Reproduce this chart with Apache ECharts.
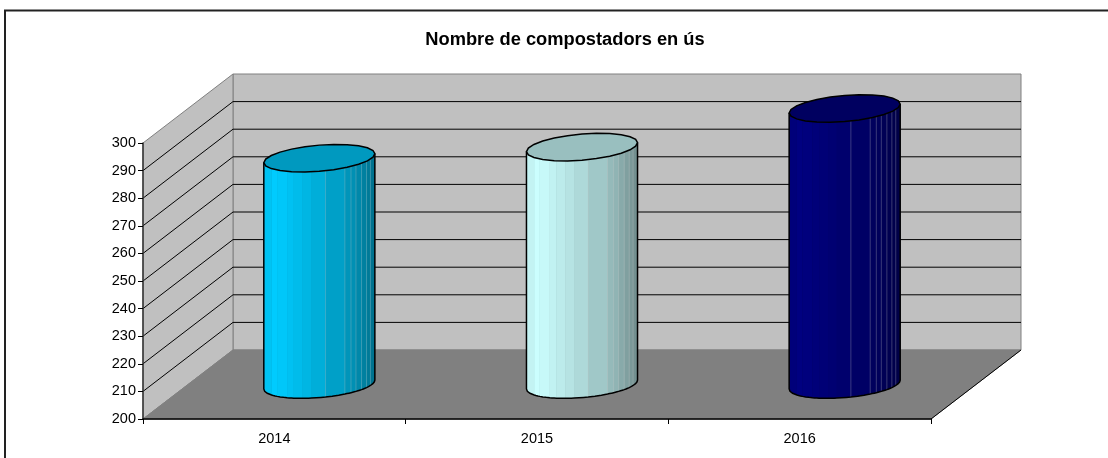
<!DOCTYPE html>
<html>
<head>
<meta charset="utf-8">
<style>
  html, body { margin: 0; padding: 0; background: #fff; }
  #chart { width: 1108px; height: 458px; }
</style>
<script src="https://cdn.jsdelivr.net/npm/echarts@6/dist/echarts.min.js"></script>
</head>
<body>
<div id="chart"></div>
<script>
const years = ['2014', '2015', '2016'];
const compostadors = [282, 286, 300];
const yTicks = [200, 210, 220, 230, 240, 250, 260, 270, 280, 290, 300];

const barColors = [[0, 204, 255], [204, 255, 255], [0, 0, 128]];
const depth = [90, -69]; // oblique offset of the back wall
const barShare = 0.4;    // bar diameter as a share of category and depth
// facet edges across the cylinder
const facetEdges = [0, 0.07, 0.12, 0.21, 0.27, 0.35, 0.43, 0.556, 0.73, 0.785, 0.83, 0.88, 0.925, 0.96, 1];
const seamEdges = [0.556, 0.73, 0.785, 0.83, 0.88, 0.925, 0.96];
const shadeStops = [[0, 0.93], [0.1, 1], [0.55, 0.83], [0.8, 0.71], [1, 0.55]];

const shadeAt = (f) => {
  for (let i = 1; i < shadeStops.length; i++) {
    if (f <= shadeStops[i][0]) {
      const a = shadeStops[i - 1], b = shadeStops[i];
      return a[1] + (b[1] - a[1]) * (f - a[0]) / (b[0] - a[0]);
    }
  }
  return 0.55;
};
const rgb = (c, k) => 'rgb(' + c.map((v) => Math.round(v * k)).join(',') + ')';
const back = (p) => [p[0] + depth[0], p[1] + depth[1]];

// back wall, side wall and floor, placed from the axis corners
function renderWalls(params, api) {
  const a = api.coord([0, yTicks[0]]);
  const size = api.size([1, 0])[0];
  const left = a[0] - size / 2;
  const right = left + size * years.length;
  const bottom = a[1];
  const top = api.coord([0, yTicks[yTicks.length - 1]])[1];
  const p = (x, y) => [x, y];
  const wall = { fill: '#C0C0C0', stroke: '#808080', lineWidth: 1 };
  return {
    type: 'group',
    children: [
      { type: 'polygon', shape: { points: [back(p(left, top)), back(p(right, top)), back(p(right, bottom)), back(p(left, bottom))] }, style: wall },
      { type: 'polygon', shape: { points: [p(left, top), back(p(left, top)), back(p(left, bottom)), p(left, bottom)] }, style: wall },
      { type: 'polygon', shape: { points: [p(left, bottom), back(p(left, bottom)), back(p(right, bottom)), p(right, bottom)] }, style: { fill: '#808080', stroke: '#808080', lineWidth: 1 } },
      { type: 'line', shape: { x1: right, y1: bottom, x2: right + depth[0], y2: bottom + depth[1] }, style: { stroke: '#000', lineWidth: 1 } }
    ]
  };
}

function renderGridLine(params, api) {
  const v = api.value(0);
  if (v === yTicks[0] || v === yTicks[yTicks.length - 1]) return null;
  const a = api.coord([0, v]);
  const size = api.size([1, 0])[0];
  const left = a[0] - size / 2;
  const right = left + size * years.length;
  const s = { stroke: '#000', lineWidth: 1 };
  return {
    type: 'group',
    children: [
      { type: 'line', shape: { x1: left, y1: a[1], x2: left + depth[0], y2: a[1] + depth[1] }, style: s },
      { type: 'line', shape: { x1: left + depth[0], y1: a[1] + depth[1], x2: right + depth[0], y2: a[1] + depth[1] }, style: s }
    ]
  };
}

function renderCylinder(params, api) {
  const idx = api.value(0);
  const topFront = api.coord([idx, api.value(1)]);
  const baseFront = api.coord([idx, yTicks[0]]);
  const size = api.size([1, 0])[0];
  const color = barColors[idx];
  const rx = size * barShare / 2;
  const bx = depth[0] * barShare / 2;
  const by = depth[1] * barShare / 2;
  const phi = Math.atan2(bx, rx);
  const cx = topFront[0] + depth[0] / 2;
  const yTop = topFront[1] + depth[1] / 2;
  const yBase = baseFront[1] + depth[1] / 2;
  const ring = (t, y) => [cx + rx * Math.cos(t) + bx * Math.sin(t), y + by * Math.sin(t)];
  const angle = (f) => 2 * Math.PI - Math.acos(2 * f - 1) + phi;
  const front = (f, y) => ring(angle(f), y);
  // lower rim between two facet edges, kept a little polygonal
  const rim = (f1, f2) => {
    const pts = [];
    for (let k = 0; k <= 3; k++) {
      pts.push(ring(angle(f1) + (angle(f2) - angle(f1)) * k / 3, yBase));
    }
    return pts;
  };

  const children = [];
  const lower = [];
  for (let i = 0; i < facetEdges.length - 1; i++) {
    lower.push(...rim(facetEdges[i], facetEdges[i + 1]));
  }
  children.push({
    type: 'polygon',
    shape: { points: [front(0, yTop), ...lower, front(1, yTop)] },
    style: { fill: rgb(color, 0.8) }
  });
  for (let i = 0; i < facetEdges.length - 1; i++) {
    const f1 = facetEdges[i], f2 = facetEdges[i + 1];
    children.push({
      type: 'polygon',
      shape: { points: [front(f1, yTop), front(f2, yTop), ...rim(f1, f2).reverse(), front(f1, yTop)] },
      style: { fill: rgb(color, shadeAt((f1 + f2) / 2)) }
    });
  }
  seamEdges.forEach((f) => {
    const t = front(f, yTop), b = front(f, yBase);
    children.push({
      type: 'line',
      shape: { x1: t[0], y1: t[1], x2: b[0], y2: b[1] },
      style: { stroke: 'rgba(192,192,192,0.3)', lineWidth: 1 }
    });
  });
  children.push({
    type: 'polyline',
    shape: { points: [front(0, yTop), ...lower, front(1, yTop)] },
    style: { fill: null, stroke: '#000', lineWidth: 1.5 }
  });
  const cap = [];
  for (let i = 0; i < 24; i++) cap.push(ring(phi + i * Math.PI / 12, yTop));
  children.push({
    type: 'polygon',
    shape: { points: cap },
    style: { fill: rgb(color, 0.75), stroke: '#000', lineWidth: 1.5 }
  });
  return { type: 'group', children };
}

const chart = echarts.init(document.getElementById('chart'), null, { renderer: 'canvas' });
chart.setOption({
  animation: false,
  backgroundColor: '#fff',
  textStyle: { fontFamily: '"Liberation Sans", Arial, sans-serif' },
  title: {
    text: 'Nombre de compostadors en ús',
    left: 560,
    top: 26,
    textAlign: 'center',
    textStyle: { color: '#000', fontSize: 18.3, fontWeight: 'bold', fontFamily: '"Liberation Sans", Arial, sans-serif' }
  },
  graphic: [{
    type: 'rect',
    z: -1,
    shape: { x: 5, y: 10.5, width: 1300, height: 700 },
    style: { fill: null, stroke: '#222', lineWidth: 2 },
    silent: true
  }],
  grid: { left: 143, top: 143, width: 788, height: 276 },
  xAxis: {
    type: 'category',
    data: years,
    z: 2,
    axisLine: { lineStyle: { color: '#000', width: 1.5 } },
    axisTick: { show: true, length: 5, alignWithLabel: false, lineStyle: { color: '#000' } },
    axisLabel: { color: '#000', fontSize: 14.5, margin: 12 },
    splitLine: { show: false }
  },
  yAxis: {
    type: 'value',
    min: yTicks[0],
    max: yTicks[yTicks.length - 1],
    interval: 10,
    z: 2,
    axisLine: { show: true, lineStyle: { color: '#333', width: 1.5 } },
    axisTick: { show: true, length: 5, lineStyle: { color: '#000' } },
    axisLabel: { color: '#000', fontSize: 14.5, margin: 7, padding: [2, 0, 0, 0] },
    splitLine: { show: false }
  },
  tooltip: { show: false },
  series: [
    { type: 'custom', name: 'walls', z: 1, silent: true, renderItem: renderWalls, encode: { x: 0, y: 1 }, data: [[0, yTicks[0]]] },
    { type: 'custom', name: 'gridlines', z: 1, silent: true, renderItem: renderGridLine, encode: { y: 0 }, data: yTicks.map((v) => [v]) },
    { type: 'custom', name: 'Compostadors', z: 3, renderItem: renderCylinder, encode: { x: 0, y: 1 }, data: compostadors.map((v, i) => [i, v]) }
  ]
});
</script>
</body>
</html>
